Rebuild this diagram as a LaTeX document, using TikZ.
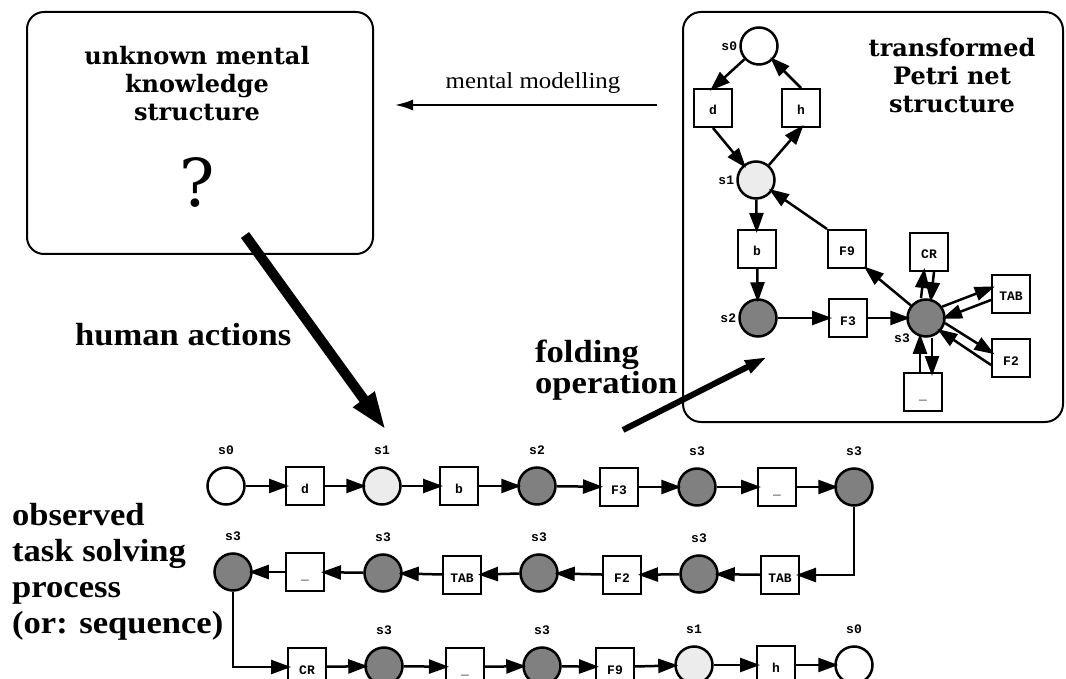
\documentclass[tikz,border=0pt]{standalone}
\usepackage{fontspec}
\usepackage{tikz}
\usetikzlibrary{arrows.meta}
\setmainfont{Liberation Serif}
\newfontfamily\headfont[FakeStretch=1.08]{Liberation Serif}
\newfontfamily\schoolfont{DejaVu Serif}
\newfontfamily\typefont{Liberation Mono}

\begin{document}
\begin{tikzpicture}[x=1pt,y=-1pt,
  place/.style={circle,draw,line width=2.5pt,minimum size=37pt,inner sep=0pt},
  trans/.style={rectangle,draw,fill=white,line width=2pt,minimum size=38pt,inner sep=0pt,
    font=\typefont\bfseries\fontsize{13}{13}\selectfont,text height=14pt,text depth=0pt},
  lab/.style={font=\typefont\bfseries\fontsize{13}{13}\selectfont,inner sep=2pt},
  arc/.style={line width=2.5pt,shorten >=-4pt,-{Triangle[length=20pt,width=14pt]}},
  big/.style={font=\headfont\bfseries\fontsize{32}{36}\selectfont,align=left,inner sep=0pt},
  title/.style={font=\schoolfont\bfseries\fontsize{24}{28}\selectfont,align=center,inner sep=0pt}]
\useasboundingbox (0,0) rectangle (1066,679);

\node[draw,line width=2pt,rounded corners=17pt,minimum width=346pt,minimum height=242pt] (mind) at (200,133) {};
\node[title] (mtitle) at (197,84) {unknown mental\\knowledge\\structure};
\node[font=\schoolfont\fontsize{66}{66}\selectfont,inner sep=0pt] (qmark) at (197,182) {?};

\node[draw,line width=2pt,rounded corners=18pt,minimum width=380pt,minimum height=410pt] (netbox) at (873,217) {};
\node[title] (ntitle) at (952,76) {transformed\\Petri net\\structure};

\coordinate (mm0) at (657,105);
\coordinate (mm1) at (395,105);
\draw[line width=2pt,-{Latex[length=18pt,width=11pt]}] (mm0) -- (mm1);
\node[font=\headfont\fontsize{23}{23}\selectfont,anchor=base,inner sep=0pt] (mmlab) at (533,89) {mental modelling};

\node[place] (p0) at (759,46) [label={[lab]left:s0}] {};
\node[trans] (td) at (713,108) {d};
\node[trans] (th) at (801,108) {h};
\node[place,fill=gray!15] (p1) at (756,180) [label={[lab]left:s1}] {};
\node[trans] (tb) at (757,249) {b};
\node[trans] (tf9) at (847,249) {F9};
\node[trans] (tcr) at (929,252) {CR};
\node[trans] (ttab) at (1011,294) {TAB};
\node[place,fill=gray] (p2) at (758,318) [label={[lab]left:s2}] {};
\node[trans] (tf3) at (848,318) {F3};
\node[place,fill=gray] (p3) at (926,318) [label={[lab]below left:s3}] {};
\node[trans] (tf2) at (1011,358) {F2};
\node[trans] (tsp) at (923,392) {\_};

\draw[arc] (p0) -- (td.north);
\draw[arc] (th.north) -- (p0);
\draw[arc] (td.south) -- (p1);
\draw[arc] (p1) -- (th.south);
\draw[arc] (p1) -- (tb);
\draw[arc] (tf9.north west) -- (p1);
\draw[arc] (tb) -- (p2);
\draw[arc] (p2) -- (tf3);
\draw[arc] (tf3) -- (p3);
\draw[arc] (p3) -- (tf9.south east);
\draw[arc] ([xshift=-5pt]p3.north) -- ([xshift=-5pt]tcr.south);
\draw[arc] ([xshift=5pt]tcr.south) -- ([xshift=5pt]p3.north);
\draw[arc] (p3.35) -- ([yshift=6pt]ttab.west);
\draw[arc] ([yshift=-6pt]ttab.west) -- (p3.2);
\draw[arc] (p3.-15) -- ([yshift=6pt]tf2.west);
\draw[arc] ([yshift=-7pt]tf2.west) -- (p3.-42);
\draw[arc] ([xshift=-3pt]tsp.north) -- ([xshift=-6pt]p3.south);
\draw[arc] ([xshift=6pt]p3.south) -- ([xshift=9pt]tsp.north);

\coordinate (ha0) at (245,235);
\coordinate (ha1) at (386,430);
\draw[line width=10pt,-{Triangle[length=38pt,width=24pt]}] (ha0) -- (ha1);
\node[big,anchor=base west] (halab) at (75,345) {human actions};

\coordinate (fo0) at (623,430);
\coordinate (fo1) at (767,357);
\draw[line width=6pt,-{Triangle[length=22pt,width=13pt]}] (fo0) -- (fo1);
\node[big,anchor=west,font=\headfont\bfseries\fontsize{32}{31}\selectfont] (folab) at (535,370) {folding\\operation};

\node[big,anchor=west] (oblab) at (12,572) {observed\\task solving\\process\\(or: sequence)};

\node[place] (q1) at (226,486) [label={[lab,label distance=9pt]above:s0}] {};
\node[trans] (q2) at (305,486) {d};
\node[place,fill=gray!15] (q3) at (382,486) [label={[lab,label distance=9pt]above:s1}] {};
\node[trans] (q4) at (459,486) {b};
\node[place,fill=gray] (q5) at (537,486) [label={[lab,label distance=9pt]above:s2}] {};
\node[trans] (q6) at (619,487) {F3};
\node[place,fill=gray] (q7) at (697,487) [label={[lab,label distance=9pt]above:s3}] {};
\node[trans] (q8) at (777,487) {\_};
\node[place,fill=gray] (q9) at (854,487) [label={[lab,label distance=9pt]above:s3}] {};

\node[trans] (q10) at (780,575) {TAB};
\node[place,fill=gray] (q11) at (699,574) [label={[lab,label distance=9pt]above:s3}] {};
\node[trans] (q12) at (622,575) {F2};
\node[place,fill=gray] (q13) at (539,573) [label={[lab,label distance=9pt]above:s3}] {};
\node[trans] (q14) at (462,575) {TAB};
\node[place,fill=gray] (q15) at (383,573) [label={[lab,label distance=9pt]above:s3}] {};
\node[trans] (q16) at (305,572) {\_};
\node[place,fill=gray] (q17) at (233,572) [label={[lab,label distance=9pt]above:s3}] {};

\node[trans] (q18) at (307,667) {CR};
\node[place,fill=gray] (q19) at (384,666) [label={[lab,label distance=9pt]above:s3}] {};
\node[trans] (q20) at (465,667) {\_};
\node[place,fill=gray] (q21) at (542,666) [label={[lab,label distance=9pt]above:s3}] {};
\node[trans] (q22) at (615,667) {F9};
\node[place,fill=gray!15] (q23) at (694,665) [label={[lab,label distance=9pt]above:s1}] {};
\node[trans] (q24) at (776,665) {h};
\node[place] (q25) at (854,665) [label={[lab,label distance=9pt]above:s0}] {};

\draw[arc] (q1) -- (q2);
\draw[arc] (q2) -- (q3);
\draw[arc] (q3) -- (q4);
\draw[arc] (q4) -- (q5);
\draw[arc] (q5) -- (q6);
\draw[arc] (q6) -- (q7);
\draw[arc] (q7) -- (q8);
\draw[arc] (q8) -- (q9);
\draw[arc] (q9.south) |- (q10.east);
\draw[arc] (q10) -- (q11);
\draw[arc] (q11) -- (q12);
\draw[arc] (q12) -- (q13);
\draw[arc] (q13) -- (q14);
\draw[arc] (q14) -- (q15);
\draw[arc] (q15) -- (q16);
\draw[arc] (q16) -- (q17);
\draw[arc] (q17.south) |- (q18.west);
\draw[arc] (q18) -- (q19);
\draw[arc] (q19) -- (q20);
\draw[arc] (q20) -- (q21);
\draw[arc] (q21) -- (q22);
\draw[arc] (q22) -- (q23);
\draw[arc] (q23) -- (q24);
\draw[arc] (q24) -- (q25);
\end{tikzpicture}
\end{document}
